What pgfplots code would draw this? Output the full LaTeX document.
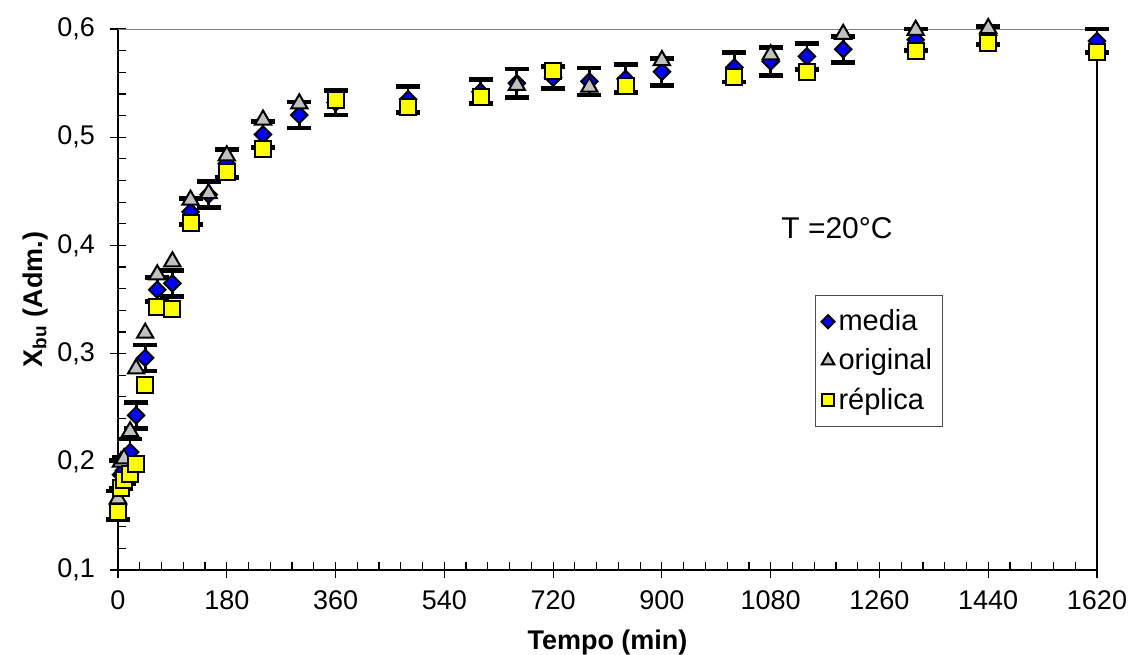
\documentclass[border=0pt]{standalone}
\usepackage{fontspec}
\setmainfont{Liberation Sans}
\usepackage{pgfplots}
\pgfplotsset{compat=1.18}
\usepackage{pgfplotstable}

\definecolor{mblue}{RGB}{0,0,255}
\definecolor{mgray}{RGB}{192,192,192}
\definecolor{myellow}{RGB}{255,255,0}

\pgfplotstableread{
t m e
0 0.160 0.013
5 0.188 0.013
10 0.192 0.012
20 0.209 0.012
30 0.243 0.012
45 0.296 0.012
65 0.359 0.011
90 0.365 0.012
120 0.431 0.012
150 0.447 0.012
180 0.4755 0.013
240 0.5025 0.012
300 0.5205 0.012
360 0.532 0.0115
480 0.535 0.012
600 0.542 0.011
660 0.550 0.013
720 0.555 0.010
780 0.5515 0.0125
840 0.554 0.013
900 0.5605 0.0125
1020 0.5645 0.0135
1080 0.570 0.013
1140 0.5747 0.012
1200 0.5813 0.012
1320 0.590 0.010
1440 0.594 0.008
1620 0.589 0.011
}\media

\pgfplotstableread{
t o
0 0.166
5 0.200
10 0.203
20 0.228
30 0.286
45 0.319
65 0.373
90 0.385
120 0.442
150 0.448
180 0.483
240 0.516
300 0.531
660 0.548
780 0.5465
900 0.571
1080 0.5763
1200 0.5952
1320 0.599
1440 0.6006
}\orig

\pgfplotstableread{
t r
0 0.154
5 0.1755
10 0.183
20 0.189
30 0.198
45 0.271
65 0.343
90 0.341
120 0.421
180 0.468
240 0.489
360 0.534
480 0.528
600 0.537
720 0.561
840 0.547
1020 0.5555
1140 0.5607
1320 0.580
1440 0.5874
1620 0.579
}\repl

\begin{document}
\begin{tikzpicture}
\begin{axis}[
  at={(0,0)}, anchor=south west,
  scale only axis, width=489.5pt, height=270.5pt,
  xmin=0, xmax=1620, ymin=0.1, ymax=0.6,
  xtick={0,180,360,540,720,900,1080,1260,1440,1620},
  ytick={0.1,0.2,0.3,0.4,0.5,0.6},
  minor x tick num=4, minor y tick num=4,
  axis lines*=left,
  axis line style={-, black, line width=0.8pt},
  tick align=center, major tick length=8pt, minor tick length=4pt,
  minor x tick style={yshift=2pt}, minor y tick style={xshift=2pt},
  tick style={black, line width=0.6pt},
  /pgf/number format/assume math mode=true,
  /pgf/number format/use comma,
  /pgf/number format/1000 sep={},
  yticklabel style={/pgf/number format/fixed, /pgf/number format/fixed zerofill, /pgf/number format/precision=1, xshift=-4pt},
  xticklabel style={yshift=-3pt},
  tick label style={font=\fontsize{13.5}{15}\selectfont},
  label style={font=\fontsize{13.5}{15}\selectfont},
  xlabel={\textbf{Tempo (min)}},
  ylabel={\textbf{X\textsubscript{bu} (Adm.)}},
  xlabel style={yshift=-3pt},
  ylabel style={yshift=-2pt},
  clip=false,
  legend style={at={(0.712,0.508)}, anchor=north west, draw=black!70, line width=0.5pt,
    font=\fontsize{14.5}{17}\selectfont, row sep=3.5pt, inner xsep=3pt, inner ysep=5pt},
  legend cell align=left,
  legend image code/.code={\draw[#1] plot coordinates {(0.15cm,0cm)};},
]
\draw[gray, line width=0.5pt] (axis cs:0,0.6) -- (axis cs:1620,0.6);
\draw[black, line width=0.6pt] (axis cs:1620,0.6) -- (axis cs:1620,0.1);

\addplot[draw=none, mark=none, forget plot,
  error bars/.cd, y dir=both, y explicit, error mark=|,
  error bar style={draw=black, line width=1.4pt},
  error mark options={draw=black, line width=2.4pt, mark size=6pt}]
  table[x=t, y=m, y error=e]{\media};

\addplot[only marks, mark=square*, mark size=2.9pt,
  mark options={rotate=45, fill=mblue, draw=black, line width=1pt},
  legend image post style={mark size=2.3pt}]
  table[x=t, y=m]{\media};
\addlegendentry{media}
\addplot[only marks, mark=triangle*, mark size=4.7pt,
  mark options={fill=mgray, draw=black, line width=1pt},
  legend image post style={mark size=3.6pt}]
  table[x=t, y=o]{\orig};
\addlegendentry{original}
\addplot[only marks, mark=square*, mark size=4pt,
  mark options={fill=myellow, draw=black, line width=1pt},
  legend image post style={mark size=3.1pt}]
  table[x=t, y=r]{\repl};
\addlegendentry{réplica}

\node[anchor=west, font=\fontsize{15}{17}\selectfont] at (axis cs:1086,0.416) {T =20°C};
\end{axis}
\pgfresetboundingbox
\path[use as bounding box] (-59pt,-42pt) rectangle (506.5pt,285pt);
\end{tikzpicture}
\end{document}
